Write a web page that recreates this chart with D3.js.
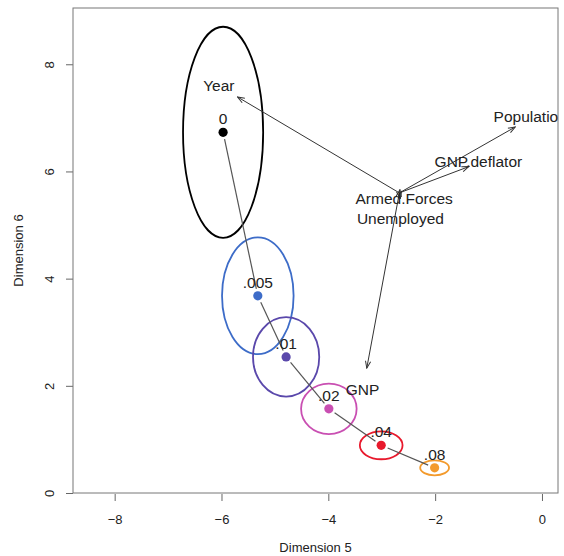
<!DOCTYPE html>
<html lang="en">
<head>
<meta charset="UTF-8">
<title>Dimension 5 vs Dimension 6</title>
<script src="https://d3js.org/d3.v7.min.js"></script>
<style>
    body { margin: 0; background: #fff; }
    text { font-family: "Liberation Sans", Arial, Helvetica, sans-serif; fill: #222; }
    .axis text { font-size: 13px; }
    .axis path, .axis line { stroke: #666; }
</style>
</head>
<body>
<svg id="chart" width="564" height="556"></svg>
<script>
    // ridge-path points (lambda values) and their confidence ellipses
    const lambdas = ["0", ".005", ".01", ".02", ".04", ".08"];
    const dimX = [-5.97, -5.32, -4.79, -3.99, -3.01, -2.01];
    const dimY = [6.73, 3.68, 2.54, 1.57, 0.89, 0.47];
    const radX = [0.75, 0.67, 0.62, 0.52, 0.40, 0.27];
    const radY = [1.97, 1.09, 0.74, 0.47, 0.26, 0.14];
    const colors = ["#000000", "#3d6cc8", "#5a48ab", "#c94fb2", "#e8192c", "#f39a2b"];

    // variable vectors (biplot arrows)
    const origin = [-2.67, 5.60];
    const varNames = ["Year", "Population", "GNP.deflator", "Armed.Forces", "Unemployed", "GNP"];
    const tipX = [-5.70, -0.50, -1.37, -2.66, -2.65, -3.28];
    const tipY = [7.39, 6.83, 6.09, 5.66, 5.50, 2.33];
    const labX = [-6.05, -0.22, -1.19, -2.58, -2.65, -3.36];
    const labY = [7.61, 7.03, 6.18, 5.50, 5.12, 1.94];

    const xTicks = [-8, -6, -4, -2, 0];
    const yTicks = [0, 2, 4, 6, 8];

    const margin = { top: 8, right: 6, bottom: 63, left: 73 };
    const W = 564, H = 556;
    const svg = d3.select("#chart");

    const x = d3.scaleLinear().domain([-8.78, 0.30]).range([margin.left, W - margin.right]);
    const y = d3.scaleLinear().domain([0, 9.05]).range([H - margin.bottom, margin.top]);

    const defs = svg.append("defs");
    defs.append("clipPath").attr("id", "plotclip")
        .append("rect")
        .attr("x", x.range()[0]).attr("y", y.range()[1])
        .attr("width", x.range()[1] - x.range()[0])
        .attr("height", y.range()[0] - y.range()[1]);
    defs.append("marker")
        .attr("id", "head")
        .attr("viewBox", "-8 -4 9 8")
        .attr("refX", 0).attr("refY", 0)
        .attr("markerWidth", 9).attr("markerHeight", 8)
        .attr("markerUnits", "userSpaceOnUse")
        .attr("orient", "auto")
        .append("path")
        .attr("d", "M-7,-2.6L0,0L-7,2.6")
        .attr("fill", "none")
        .attr("stroke", "#333")
        .attr("stroke-width", 1);

    // axes
    const xAxis = svg.append("g").attr("class", "axis")
        .attr("transform", `translate(0,${y(0) + 1})`)
        .call(d3.axisBottom(x).tickValues(xTicks).tickSize(7).tickPadding(14)
            .tickFormat(d => d < 0 ? "\u2212" + Math.abs(d) : d));
    xAxis.select(".domain").remove();

    const yAxis = svg.append("g").attr("class", "axis")
        .attr("transform", `translate(${x.range()[0]},0)`)
        .call(d3.axisLeft(y).tickValues(yTicks).tickSize(7).tickFormat(d => d));
    yAxis.select(".domain").remove();
    // R-style: y tick labels parallel to the axis
    yAxis.selectAll(".tick text")
        .attr("x", 0).attr("y", 0).attr("dy", "0.35em")
        .attr("text-anchor", "middle")
        .attr("transform", "translate(-24,0) rotate(-90)");

    // box
    svg.append("rect")
        .attr("x", x.range()[0]).attr("y", y.range()[1])
        .attr("width", x.range()[1] - x.range()[0])
        .attr("height", y.range()[0] - y.range()[1])
        .attr("fill", "none").attr("stroke", "#777").attr("stroke-width", 1);

    // axis titles
    svg.append("text")
        .attr("x", (x.range()[0] + x.range()[1]) / 2).attr("y", 552)
        .attr("text-anchor", "middle").style("font-size", "13px")
        .text("Dimension 5");
    svg.append("text")
        .attr("transform", `translate(23,${(y.range()[0] + y.range()[1]) / 2}) rotate(-90)`)
        .attr("text-anchor", "middle").style("font-size", "13px")
        .text("Dimension 6");

    const plot = svg.append("g").attr("clip-path", "url(#plotclip)");

    // ellipses
    plot.selectAll("ellipse")
        .data(lambdas)
        .join("ellipse")
        .attr("cx", (d, i) => x(dimX[i]))
        .attr("cy", (d, i) => y(dimY[i]))
        .attr("rx", (d, i) => x(dimX[i] + radX[i]) - x(dimX[i]))
        .attr("ry", (d, i) => y(dimY[i]) - y(dimY[i] + radY[i]))
        .attr("fill", "none")
        .attr("stroke", (d, i) => colors[i])
        .attr("stroke-width", 1.8);

    // path segments between successive points, with small gaps
    const gap = 7;
    const segs = d3.range(lambdas.length - 1).map(i => {
        const x1 = x(dimX[i]), y1 = y(dimY[i]), x2 = x(dimX[i + 1]), y2 = y(dimY[i + 1]);
        const len = Math.hypot(x2 - x1, y2 - y1);
        const ux = (x2 - x1) / len, uy = (y2 - y1) / len;
        return [x1 + ux * gap, y1 + uy * gap, x2 - ux * gap, y2 - uy * gap];
    });
    plot.selectAll("line.seg")
        .data(segs)
        .join("line")
        .attr("class", "seg")
        .attr("x1", d => d[0]).attr("y1", d => d[1])
        .attr("x2", d => d[2]).attr("y2", d => d[3])
        .attr("stroke", "#555").attr("stroke-width", 1.2);

    // points and lambda labels
    plot.selectAll("circle.pt")
        .data(lambdas)
        .join("circle")
        .attr("class", "pt")
        .attr("cx", (d, i) => x(dimX[i]))
        .attr("cy", (d, i) => y(dimY[i]))
        .attr("r", 4.6)
        .attr("fill", (d, i) => colors[i]);
    plot.selectAll("text.lam")
        .data(lambdas)
        .join("text")
        .attr("class", "lam")
        .attr("x", (d, i) => x(dimX[i]))
        .attr("y", (d, i) => y(dimY[i]) - 8)
        .attr("text-anchor", "middle")
        .style("font-size", "15.5px")
        .text(d => d);

    // variable arrows and labels
    plot.selectAll("line.vec")
        .data(varNames)
        .join("line")
        .attr("class", "vec")
        .attr("x1", x(origin[0])).attr("y1", y(origin[1]))
        .attr("x2", (d, i) => x(tipX[i])).attr("y2", (d, i) => y(tipY[i]))
        .attr("stroke", "#333").attr("stroke-width", 1)
        .attr("marker-end", "url(#head)");
    plot.selectAll("text.var")
        .data(varNames)
        .join("text")
        .attr("class", "var")
        .attr("x", (d, i) => x(labX[i]))
        .attr("y", (d, i) => y(labY[i]))
        .attr("dy", "0.36em")
        .attr("text-anchor", "middle")
        .style("font-size", "15.5px")
        .text(d => d);
</script>
</body>
</html>
